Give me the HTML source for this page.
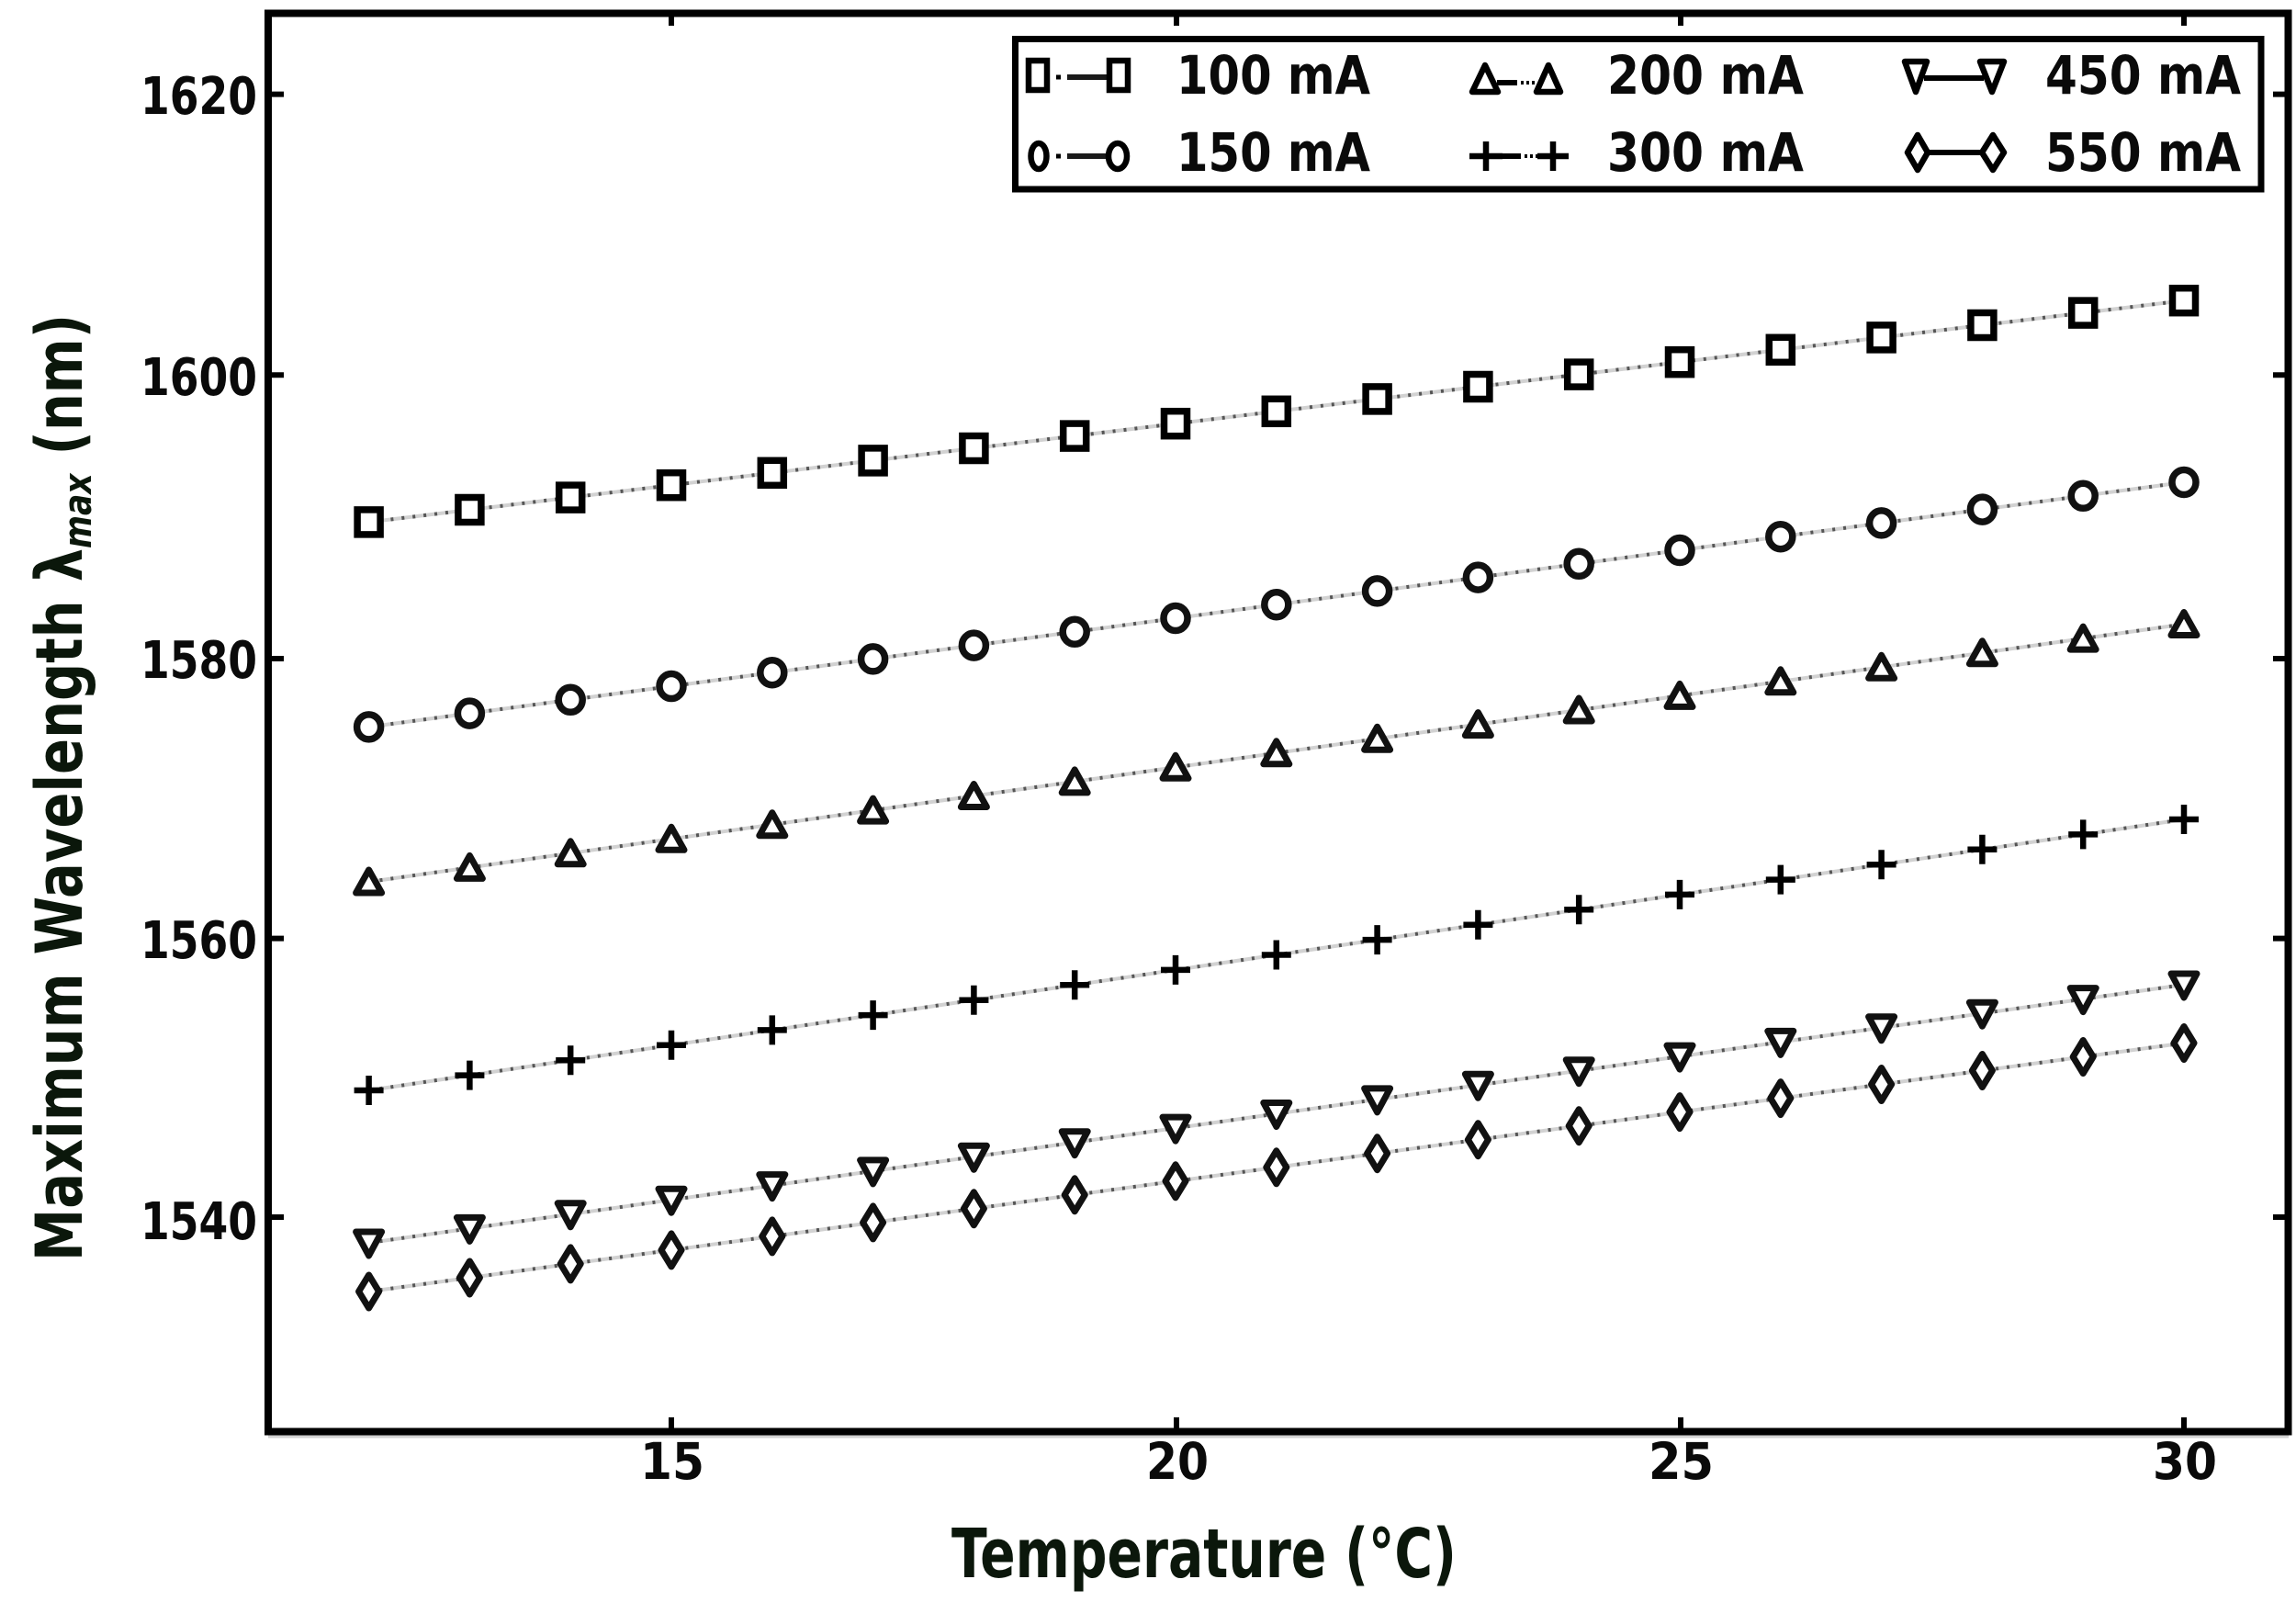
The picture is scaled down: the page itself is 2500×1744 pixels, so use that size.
<!DOCTYPE html>
<html>
<head>
<meta charset="utf-8">
<style>
  html, body { margin: 0; padding: 0; background: #fff; }
  svg { display: block; }
  text { font-family: "DejaVu Sans", "Liberation Sans", sans-serif; font-weight: bold; fill: #0a0a0a; }
</style>
</head>
<body>
<svg width="2500" height="1744" viewBox="0 0 2500 1744" xmlns="http://www.w3.org/2000/svg">
  <defs>
    <marker id="msq" markerUnits="userSpaceOnUse" markerWidth="60" markerHeight="60" refX="30" refY="30" overflow="visible">
      <rect x="17.5" y="16.5" width="25" height="27" fill="#fff" stroke="#000" stroke-width="7.5"/>
    </marker>
    <marker id="mci" markerUnits="userSpaceOnUse" markerWidth="60" markerHeight="60" refX="30" refY="30" overflow="visible">
      <ellipse cx="30" cy="30" rx="13" ry="13.5" fill="#fff" stroke="#111" stroke-width="7.5"/>
    </marker>
    <marker id="mtu" markerUnits="userSpaceOnUse" markerWidth="60" markerHeight="60" refX="30" refY="30" overflow="visible">
      <path d="M30,17 L44,42 L16,42 Z" fill="#fff" stroke="#111" stroke-width="7" stroke-linejoin="round"/>
    </marker>
    <marker id="mpl" markerUnits="userSpaceOnUse" markerWidth="60" markerHeight="60" refX="30" refY="30" overflow="visible">
      <path d="M14,30 L46,30 M30,14 L30,46" fill="none" stroke="#000" stroke-width="6.5"/>
    </marker>
    <marker id="mtd" markerUnits="userSpaceOnUse" markerWidth="60" markerHeight="60" refX="30" refY="30" overflow="visible">
      <path d="M16,18 L44,18 L30,44 Z" fill="#fff" stroke="#111" stroke-width="7" stroke-linejoin="round"/>
    </marker>
    <marker id="mdi" markerUnits="userSpaceOnUse" markerWidth="60" markerHeight="60" refX="30" refY="30" overflow="visible">
      <path d="M30,12 L41,30 L30,48 L19,30 Z" fill="#fff" stroke="#111" stroke-width="7" stroke-linejoin="round"/>
    </marker>
  </defs>

  <!-- series lines -->
  <g fill="none">
    <polyline stroke="#d2d2d2" stroke-width="4" points="401.6,568.4 511.4,555.0 621.2,541.6 731.0,528.2 840.8,514.8 950.6,501.4 1060.4,488.0 1170.2,474.6 1280.0,461.2 1389.8,447.8 1499.6,434.4 1609.4,421.0 1719.2,407.6 1829.0,394.2 1938.8,380.8 2048.6,367.4 2158.4,354.0 2268.2,340.6 2378.0,327.2"/>
    <polyline stroke="#555" stroke-width="4" stroke-dasharray="3 9" points="401.6,568.4 511.4,555.0 621.2,541.6 731.0,528.2 840.8,514.8 950.6,501.4 1060.4,488.0 1170.2,474.6 1280.0,461.2 1389.8,447.8 1499.6,434.4 1609.4,421.0 1719.2,407.6 1829.0,394.2 1938.8,380.8 2048.6,367.4 2158.4,354.0 2268.2,340.6 2378.0,327.2"/>
    <polyline stroke="#d2d2d2" stroke-width="4" points="401.6,791.4 511.4,776.6 621.2,761.8 731.0,747.0 840.8,732.2 950.6,717.4 1060.4,702.6 1170.2,687.8 1280.0,673.0 1389.8,658.2 1499.6,643.4 1609.4,628.6 1719.2,613.8 1829.0,599.0 1938.8,584.2 2048.6,569.4 2158.4,554.6 2268.2,539.8 2378.0,525.0"/>
    <polyline stroke="#555" stroke-width="4" stroke-dasharray="3 9" points="401.6,791.4 511.4,776.6 621.2,761.8 731.0,747.0 840.8,732.2 950.6,717.4 1060.4,702.6 1170.2,687.8 1280.0,673.0 1389.8,658.2 1499.6,643.4 1609.4,628.6 1719.2,613.8 1829.0,599.0 1938.8,584.2 2048.6,569.4 2158.4,554.6 2268.2,539.8 2378.0,525.0"/>
    <polyline stroke="#d2d2d2" stroke-width="4" points="401.6,960.0 511.4,944.4 621.2,928.8 731.0,913.3 840.8,897.7 950.6,882.1 1060.4,866.5 1170.2,850.9 1280.0,835.3 1389.8,819.8 1499.6,804.2 1609.4,788.6 1719.2,773.0 1829.0,757.4 1938.8,741.8 2048.6,726.3 2158.4,710.7 2268.2,695.1 2378.0,679.5"/>
    <polyline stroke="#555" stroke-width="4" stroke-dasharray="3 9" points="401.6,960.0 511.4,944.4 621.2,928.8 731.0,913.3 840.8,897.7 950.6,882.1 1060.4,866.5 1170.2,850.9 1280.0,835.3 1389.8,819.8 1499.6,804.2 1609.4,788.6 1719.2,773.0 1829.0,757.4 1938.8,741.8 2048.6,726.3 2158.4,710.7 2268.2,695.1 2378.0,679.5"/>
    <polyline stroke="#d2d2d2" stroke-width="4" points="401.6,1187.0 511.4,1170.6 621.2,1154.2 731.0,1137.8 840.8,1121.4 950.6,1105.1 1060.4,1088.7 1170.2,1072.3 1280.0,1055.9 1389.8,1039.5 1499.6,1023.1 1609.4,1006.7 1719.2,990.3 1829.0,973.9 1938.8,957.6 2048.6,941.2 2158.4,924.8 2268.2,908.4 2378.0,892.0"/>
    <polyline stroke="#555" stroke-width="4" stroke-dasharray="3 9" points="401.6,1187.0 511.4,1170.6 621.2,1154.2 731.0,1137.8 840.8,1121.4 950.6,1105.1 1060.4,1088.7 1170.2,1072.3 1280.0,1055.9 1389.8,1039.5 1499.6,1023.1 1609.4,1006.7 1719.2,990.3 1829.0,973.9 1938.8,957.6 2048.6,941.2 2158.4,924.8 2268.2,908.4 2378.0,892.0"/>
    <polyline stroke="#d2d2d2" stroke-width="4" points="401.6,1353.0 511.4,1337.4 621.2,1321.8 731.0,1306.2 840.8,1290.6 950.6,1274.9 1060.4,1259.3 1170.2,1243.7 1280.0,1228.1 1389.8,1212.5 1499.6,1196.9 1609.4,1181.3 1719.2,1165.7 1829.0,1150.1 1938.8,1134.4 2048.6,1118.8 2158.4,1103.2 2268.2,1087.6 2378.0,1072.0"/>
    <polyline stroke="#555" stroke-width="4" stroke-dasharray="3 9" points="401.6,1353.0 511.4,1337.4 621.2,1321.8 731.0,1306.2 840.8,1290.6 950.6,1274.9 1060.4,1259.3 1170.2,1243.7 1280.0,1228.1 1389.8,1212.5 1499.6,1196.9 1609.4,1181.3 1719.2,1165.7 1829.0,1150.1 1938.8,1134.4 2048.6,1118.8 2158.4,1103.2 2268.2,1087.6 2378.0,1072.0"/>
    <polyline stroke="#d2d2d2" stroke-width="4" points="401.6,1406.0 511.4,1391.0 621.2,1375.9 731.0,1360.9 840.8,1345.9 950.6,1330.9 1060.4,1315.8 1170.2,1300.8 1280.0,1285.8 1389.8,1270.8 1499.6,1255.7 1609.4,1240.7 1719.2,1225.7 1829.0,1210.6 1938.8,1195.6 2048.6,1180.5 2158.4,1165.5 2268.2,1150.5 2378.0,1135.5"/>
    <polyline stroke="#555" stroke-width="4" stroke-dasharray="3 9" points="401.6,1406.0 511.4,1391.0 621.2,1375.9 731.0,1360.9 840.8,1345.9 950.6,1330.9 1060.4,1315.8 1170.2,1300.8 1280.0,1285.8 1389.8,1270.8 1499.6,1255.7 1609.4,1240.7 1719.2,1225.7 1829.0,1210.6 1938.8,1195.6 2048.6,1180.5 2158.4,1165.5 2268.2,1150.5 2378.0,1135.5"/>
  </g>

  <!-- markers -->
  <g fill="none" stroke="none">
    <polyline marker-start="url(#msq)" marker-mid="url(#msq)" marker-end="url(#msq)" points="401.6,568.4 511.4,555.0 621.2,541.6 731.0,528.2 840.8,514.8 950.6,501.4 1060.4,488.0 1170.2,474.6 1280.0,461.2 1389.8,447.8 1499.6,434.4 1609.4,421.0 1719.2,407.6 1829.0,394.2 1938.8,380.8 2048.6,367.4 2158.4,354.0 2268.2,340.6 2378.0,327.2"/>
    <polyline marker-start="url(#mci)" marker-mid="url(#mci)" marker-end="url(#mci)" points="401.6,791.4 511.4,776.6 621.2,761.8 731.0,747.0 840.8,732.2 950.6,717.4 1060.4,702.6 1170.2,687.8 1280.0,673.0 1389.8,658.2 1499.6,643.4 1609.4,628.6 1719.2,613.8 1829.0,599.0 1938.8,584.2 2048.6,569.4 2158.4,554.6 2268.2,539.8 2378.0,525.0"/>
    <polyline marker-start="url(#mtu)" marker-mid="url(#mtu)" marker-end="url(#mtu)" points="401.6,960.0 511.4,944.4 621.2,928.8 731.0,913.3 840.8,897.7 950.6,882.1 1060.4,866.5 1170.2,850.9 1280.0,835.3 1389.8,819.8 1499.6,804.2 1609.4,788.6 1719.2,773.0 1829.0,757.4 1938.8,741.8 2048.6,726.3 2158.4,710.7 2268.2,695.1 2378.0,679.5"/>
    <polyline marker-start="url(#mpl)" marker-mid="url(#mpl)" marker-end="url(#mpl)" points="401.6,1187.0 511.4,1170.6 621.2,1154.2 731.0,1137.8 840.8,1121.4 950.6,1105.1 1060.4,1088.7 1170.2,1072.3 1280.0,1055.9 1389.8,1039.5 1499.6,1023.1 1609.4,1006.7 1719.2,990.3 1829.0,973.9 1938.8,957.6 2048.6,941.2 2158.4,924.8 2268.2,908.4 2378.0,892.0"/>
    <polyline marker-start="url(#mtd)" marker-mid="url(#mtd)" marker-end="url(#mtd)" points="401.6,1353.0 511.4,1337.4 621.2,1321.8 731.0,1306.2 840.8,1290.6 950.6,1274.9 1060.4,1259.3 1170.2,1243.7 1280.0,1228.1 1389.8,1212.5 1499.6,1196.9 1609.4,1181.3 1719.2,1165.7 1829.0,1150.1 1938.8,1134.4 2048.6,1118.8 2158.4,1103.2 2268.2,1087.6 2378.0,1072.0"/>
    <polyline marker-start="url(#mdi)" marker-mid="url(#mdi)" marker-end="url(#mdi)" points="401.6,1406.0 511.4,1391.0 621.2,1375.9 731.0,1360.9 840.8,1345.9 950.6,1330.9 1060.4,1315.8 1170.2,1300.8 1280.0,1285.8 1389.8,1270.8 1499.6,1255.7 1609.4,1240.7 1719.2,1225.7 1829.0,1210.6 1938.8,1195.6 2048.6,1180.5 2158.4,1165.5 2268.2,1150.5 2378.0,1135.5"/>
  </g>

  <!-- axes frame -->
  <rect x="292" y="14.5" width="2199.5" height="1544" fill="none" stroke="#000" stroke-width="8"/>
  <line x1="292" y1="1564" x2="2492" y2="1564" stroke="#d0d0d0" stroke-width="3"/>

  <!-- ticks -->
  <g stroke="#000" stroke-width="6">
    <line x1="292" y1="102.6" x2="309" y2="102.6"/>
    <line x1="292" y1="408.3" x2="309" y2="408.3"/>
    <line x1="292" y1="717" x2="309" y2="717"/>
    <line x1="292" y1="1021.6" x2="309" y2="1021.6"/>
    <line x1="292" y1="1325" x2="309" y2="1325"/>
    <line x1="2475" y1="102.6" x2="2492" y2="102.6"/>
    <line x1="2475" y1="408.3" x2="2492" y2="408.3"/>
    <line x1="2475" y1="717" x2="2492" y2="717"/>
    <line x1="2475" y1="1021.6" x2="2492" y2="1021.6"/>
    <line x1="2475" y1="1325" x2="2492" y2="1325"/>
    <line x1="731" y1="14" x2="731" y2="28"/>
    <line x1="1281" y1="14" x2="1281" y2="28"/>
    <line x1="1830" y1="14" x2="1830" y2="28"/>
    <line x1="2378" y1="14" x2="2378" y2="28"/>
    <line x1="731" y1="1558" x2="731" y2="1543"/>
    <line x1="1281" y1="1558" x2="1281" y2="1543"/>
    <line x1="1830" y1="1558" x2="1830" y2="1543"/>
    <line x1="2378" y1="1558" x2="2378" y2="1543"/>
  </g>

  <!-- y tick labels -->
  <g font-size="56" text-anchor="start">
    <text x="153" y="124" textLength="127" lengthAdjust="spacingAndGlyphs">1620</text>
    <text x="153" y="430" textLength="127" lengthAdjust="spacingAndGlyphs">1600</text>
    <text x="153" y="738" textLength="127" lengthAdjust="spacingAndGlyphs">1580</text>
    <text x="153" y="1043" textLength="127" lengthAdjust="spacingAndGlyphs">1560</text>
    <text x="153" y="1349" textLength="127" lengthAdjust="spacingAndGlyphs">1540</text>
  </g>

  <!-- x tick labels -->
  <g font-size="55">
    <text x="697" y="1610" textLength="70" lengthAdjust="spacingAndGlyphs">15</text>
    <text x="1248" y="1610" textLength="68" lengthAdjust="spacingAndGlyphs">20</text>
    <text x="1795" y="1610" textLength="71" lengthAdjust="spacingAndGlyphs">25</text>
    <text x="2344" y="1610" textLength="70" lengthAdjust="spacingAndGlyphs">30</text>
  </g>

  <!-- axis titles -->
  <text x="1036" y="1717" font-size="74" textLength="550" lengthAdjust="spacingAndGlyphs" style="fill:#0b170b">Temperature (°C)</text>
  <text x="89" y="1373" font-size="70" transform="rotate(-90 89 1373)" textLength="1031" lengthAdjust="spacingAndGlyphs" style="fill:#0b170b">Maximum Wavelength λ<tspan font-size="42" font-style="italic" dy="10">max</tspan><tspan dy="-10"> (nm)</tspan></text>

  <!-- legend -->
  <rect x="1105.5" y="42.5" width="1356.5" height="163.5" fill="#fff" stroke="#000" stroke-width="7"/>
  <g stroke="#000" fill="none">
    <line x1="1150" y1="84" x2="1155" y2="84" stroke-width="5"/>
    <line x1="1162" y1="84" x2="1205" y2="84" stroke-width="6" stroke="#1a1a1a"/>
    <rect x="1120" y="66" width="20" height="32" fill="#fff" stroke-width="6.5"/>
    <rect x="1208" y="66" width="20" height="32" fill="#fff" stroke-width="6.5"/>
    <line x1="1150" y1="170" x2="1155" y2="170" stroke-width="5"/>
    <line x1="1162" y1="170" x2="1205" y2="170" stroke-width="6" stroke="#1a1a1a"/>
    <ellipse cx="1131" cy="170" rx="8.5" ry="14" fill="#fff" stroke-width="6.5"/>
    <ellipse cx="1217" cy="170" rx="10" ry="14" fill="#fff" stroke-width="6.5"/>
    <line x1="1630" y1="90" x2="1652" y2="90" stroke-width="6"/>
    <line x1="1656" y1="90" x2="1672" y2="90" stroke-width="4" stroke-dasharray="3 3"/>
    <path d="M1617,71 L1631,100 L1603,100 Z" fill="#fff" stroke-width="6.5" stroke-linejoin="round"/>
    <path d="M1686,71 L1699,100 L1673,100 Z" fill="#fff" stroke-width="6.5" stroke-linejoin="round"/>
    <line x1="1636" y1="170" x2="1656" y2="170" stroke-width="6"/>
    <line x1="1660" y1="170" x2="1674" y2="170" stroke-width="4" stroke-dasharray="3 3"/>
    <path d="M1600,170 L1636,170 M1618,154 L1618,186" stroke-width="6.5"/>
    <path d="M1674,170 L1708,170 M1691,154 L1691,186" stroke-width="6.5"/>
    <line x1="2095" y1="85" x2="2160" y2="85" stroke-width="6"/>
    <path d="M2074,67 L2098,67 L2086,100 Z" fill="#fff" stroke-width="6.5" stroke-linejoin="round"/>
    <path d="M2156,67 L2182,67 L2169,100 Z" fill="#fff" stroke-width="6.5" stroke-linejoin="round"/>
    <line x1="2098" y1="166" x2="2160" y2="166" stroke-width="6"/>
    <path d="M2088,147 L2099,166 L2088,185 L2077,166 Z" fill="#fff" stroke-width="6.5" stroke-linejoin="round"/>
    <path d="M2170,147 L2182,166 L2170,185 L2158,166 Z" fill="#fff" stroke-width="6.5" stroke-linejoin="round"/>
  </g>
  <g font-size="58">
    <text x="1281" y="102" textLength="211" lengthAdjust="spacingAndGlyphs">100 mA</text>
    <text x="1281" y="186" textLength="211" lengthAdjust="spacingAndGlyphs">150 mA</text>
    <text x="1750" y="102" textLength="214" lengthAdjust="spacingAndGlyphs">200 mA</text>
    <text x="1750" y="186" textLength="214" lengthAdjust="spacingAndGlyphs">300 mA</text>
    <text x="2227" y="102" textLength="213" lengthAdjust="spacingAndGlyphs">450 mA</text>
    <text x="2227" y="186" textLength="213" lengthAdjust="spacingAndGlyphs">550 mA</text>
  </g>
</svg>
</body>
</html>
